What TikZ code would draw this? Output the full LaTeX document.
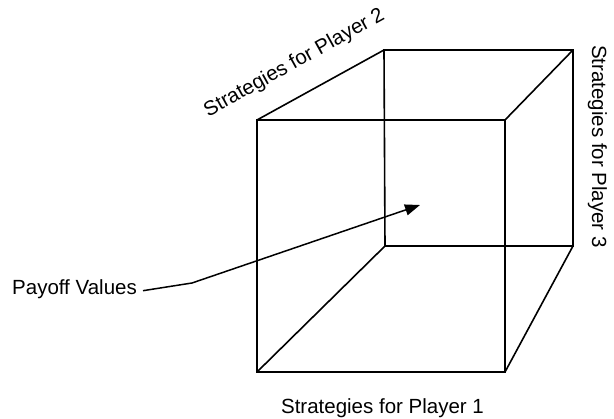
\documentclass[tikz,border=0pt]{standalone}
\usepackage{fontspec}
\setmainfont{Liberation Sans}
\usetikzlibrary{arrows.meta}
\begin{document}
\begin{tikzpicture}[x=1pt,y=-1pt,
  edge/.style={line width=1.6pt, line join=miter},
  lbl/.style={inner sep=0pt, font=\fontsize{20.5}{24}\selectfont},
  pointer/.style={line width=1.5pt, -{Triangle[length=15pt,width=11pt]}}]
\useasboundingbox (0,0) rectangle (614,419);

% front face corners
\coordinate (f1) at (257,120);
\coordinate (f2) at (505,120);
\coordinate (f3) at (505,372);
\coordinate (f4) at (257,372);
% back face corners
\coordinate (b1) at (384,50);
\coordinate (b2) at (573,50);
\coordinate (b3) at (573,246);
\coordinate (b4) at (385,246);

% the box
\draw[edge] (f1) -- (f2) -- (f3) -- (f4) -- cycle;
\draw[edge] (b1) -- (b2) -- (b3) -- (b4) -- cycle;
\draw[edge] (f1) -- (b1);
\draw[edge] (f2) -- (b2);
\draw[edge] (f3) -- (b3);
\draw[edge] (f4) -- (b4);

% axis labels
\node[lbl, anchor=base] (p1) at (382.5,414) {Strategies for Player 1};
\node[lbl, anchor=base, rotate=29] (p2) at (297,68) {Strategies for Player 2};
\node[lbl, anchor=base, rotate=-90] (p3) at (592,146.5) {Strategies for Player 3};

% payoff pointer
\node[lbl, anchor=base west] (pv) at (12,295) {Payoff Values};
\coordinate (bend) at (192,283);
\coordinate (tip) at (420,205);
\draw[pointer] ([xshift=6pt,yshift=-1pt]pv.east) -- (bend) -- (tip);
\end{tikzpicture}
\end{document}
